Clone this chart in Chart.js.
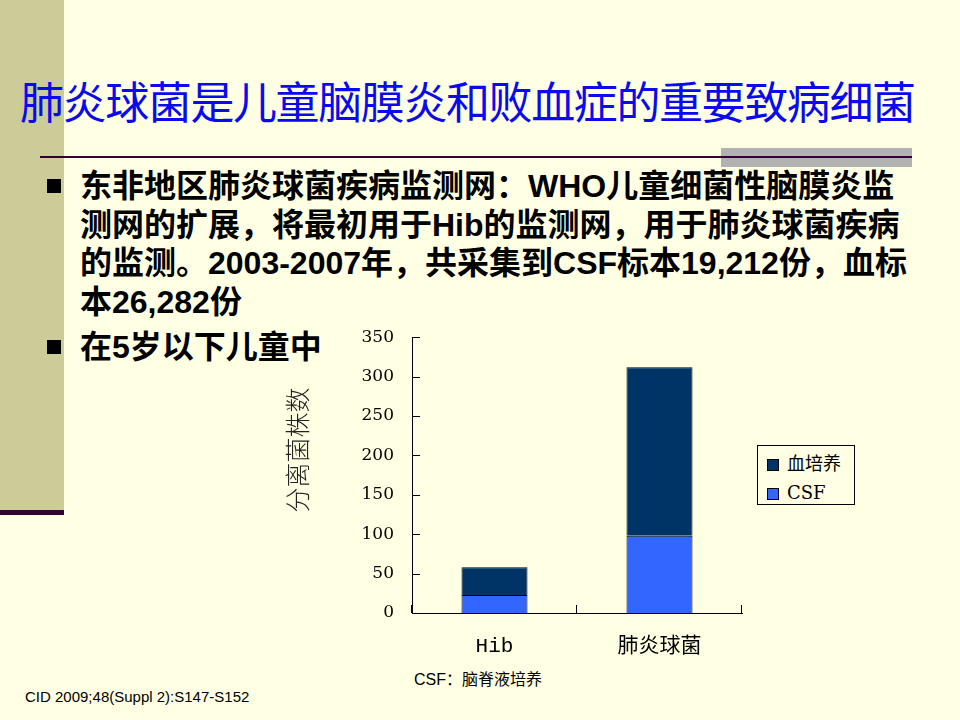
<!DOCTYPE html>
<html lang="zh">
<head>
  <meta charset="UTF-8">
  <title>肺炎球菌分离菌株数</title>
  <script src="https://cdn.jsdelivr.net/npm/chart.js"></script>
  <style>
    body { margin: 0; width: 960px; height: 720px; background: #FFFFE3; position: relative; overflow: hidden;
           font-family: "Liberation Sans", "Noto Sans CJK SC", sans-serif; }
    .side { position: absolute; left: 0; top: 0; width: 64px; height: 510px; background: #CCCC99; }
    .sideline { position: absolute; left: 0; top: 510px; width: 64px; height: 5px; background: #330033; }
    .rule { position: absolute; left: 40px; top: 156px; width: 872px; height: 2px; background: #330033; }
    .grey { position: absolute; left: 721px; top: 148px; width: 191px; height: 19px; background: #B2B2B2; }
    h1 { position: absolute; left: 20px; top: 74px; margin: 0; font-size: 44px; line-height: 52px; font-weight: normal;
         letter-spacing: -1.4px; color: #0A0AF0; white-space: nowrap; font-family: "Noto Sans CJK SC", sans-serif; }
    .bullet { position: absolute; left: 80px; font-size: 32px; font-weight: bold; line-height: 38.5px; color: #000; white-space: nowrap; }
    .bullet::before { content: ""; position: absolute; left: -33px; top: 12px; width: 14px; height: 14px; background: #000; }
    #wrap { position: absolute; left: 270px; top: 317px; width: 475px; height: 348px; }
    .legend { position: absolute; left: 757px; top: 445px; width: 96px; height: 58px; border: 1px solid #000;
              font-family: "DejaVu Serif", "Noto Sans CJK SC", serif; font-size: 18px; color: #000; }
    .legend div { position: absolute; left: 9px; height: 20px; line-height: 20px; white-space: nowrap; }
    .legend span { display: inline-block; width: 10px; height: 10px; border: 1px solid #000; margin-right: 8px; vertical-align: -1px; }
    .note { position: absolute; left: 414px; top: 666px; font-size: 16px; color: #000; }
    .cite { position: absolute; left: 25px; top: 688px; font-size: 15px; color: #000; font-family: "Liberation Sans", sans-serif; }
  </style>
</head>
<body>
  <div class="side"></div>
  <div class="sideline"></div>
  <div class="grey"></div>
  <div class="rule"></div>
  <h1>肺炎球菌是儿童脑膜炎和败血症的重要致病细菌</h1>
  <div class="bullet" style="top:167px">东非地区肺炎球菌疾病监测网：WHO儿童细菌性脑膜炎监<br>测网的扩展，将最初用于Hib的监测网，用于肺炎球菌疾病<br>的监测。2003-2007年，共采集到CSF标本19,212份，血标<br>本26,282份</div>
  <div class="bullet" style="top:328px">在5岁以下儿童中</div>
  <div id="wrap"><canvas id="chart"></canvas></div>
  <div class="legend" id="legend"></div>
  <div class="note">CSF：<span style="font-family:'Noto Sans CJK SC'">脑脊液培养</span></div>
  <div class="cite">CID 2009;48(Suppl 2):S147-S152</div>

  <script>
    const categories = ["Hib", "肺炎球菌"];
    const csfValues = [23, 98];
    const bloodValues = [35, 214];
    const yTicks = [0, 50, 100, 150, 200, 250, 300, 350];

    const serif = "'DejaVu Serif', 'Noto Sans CJK SC', serif";

    // inside tick marks on both axes
    const insideTicks = {
      id: 'insideTicks',
      afterDraw(chart) {
        const ctx = chart.ctx;
        const x = chart.scales.x, y = chart.scales.y;
        ctx.save();
        ctx.strokeStyle = '#000';
        ctx.lineWidth = 1;
        ctx.beginPath();
        yTicks.forEach(v => {
          const py = Math.round(y.getPixelForValue(v)) + 0.5;
          ctx.moveTo(x.left, py);
          ctx.lineTo(x.left + 8, py);
        });
        for (let i = 0; i <= categories.length; i++) {
          const px = Math.round(x.getPixelForValue(i - 0.5)) - 0.5;
          ctx.moveTo(px, y.bottom);
          ctx.lineTo(px, y.bottom - 8);
        }
        ctx.stroke();
        ctx.restore();
      }
    };

    const chart = new Chart(document.getElementById('chart'), {
      type: 'bar',
      data: {
        labels: categories,
        datasets: [
          { label: 'CSF', data: csfValues, backgroundColor: '#3366FF', borderColor: '#000', borderWidth: 1,
            categoryPercentage: 1, barPercentage: 0.4 },
          { label: '血培养', data: bloodValues, backgroundColor: '#003366', borderColor: '#000', borderWidth: 1,
            categoryPercentage: 1, barPercentage: 0.4 }
        ]
      },
      options: {
        responsive: true,
        maintainAspectRatio: false,
        animation: false,
        layout: { padding: { top: 1, right: 3 } },
        plugins: {
          legend: { display: false },
          tooltip: { enabled: false }
        },
        scales: {
          x: {
            stacked: true,
            grid: { display: false },
            border: { color: '#000', width: 1 },
            ticks: { color: '#000', padding: 13, font: { family: "'Liberation Mono', 'Noto Sans CJK SC', monospace", size: 21 } },
            afterFit(s) { s.height = 52; }
          },
          y: {
            stacked: true,
            min: 0, max: 350,
            afterBuildTicks(s) { s.ticks = yTicks.map(v => ({ value: v })); },
            grid: { display: false },
            border: { color: '#000', width: 1 },
            ticks: { color: '#000', padding: 10, font: { family: serif, size: 17 } },
            title: { display: true, text: '\u3000\u3000分离菌株数', color: '#222', padding: { top: 12, bottom: 30 },
                     font: { family: "'Noto Sans CJK SC', sans-serif", size: 25, weight: 300 } },
            afterFit(s) { s.width = 142; }
          }
        }
      },
      plugins: [insideTicks]
    });

    // legend built from the datasets, top item = last stacked series
    const legendEl = document.getElementById('legend');
    chart.data.datasets.slice().reverse().forEach((ds, i) => {
      const row = document.createElement('div');
      row.style.top = (8 + i * 29) + 'px';
      row.innerHTML = '<span style="background:' + ds.backgroundColor + '"></span>' + ds.label;
      legendEl.appendChild(row);
    });
  </script>
</body>
</html>
